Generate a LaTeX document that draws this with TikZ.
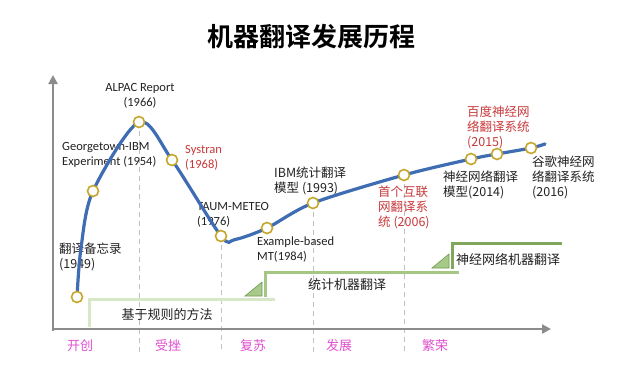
\documentclass[tikz,border=0pt]{standalone}
\usepackage{fontspec}
\setmainfont{Carlito}
\newfontfamily\cjk{Noto Sans CJK SC}[BoldFont={Noto Sans CJK SC Bold}]
\usetikzlibrary{arrows.meta}
\definecolor{curvecol}{HTML}{3F6DB3}
\definecolor{ptcol}{HTML}{C4A62A}
\definecolor{axiscol}{HTML}{8C8C8C}
\definecolor{dashcol}{HTML}{C0C0C0}
\definecolor{txt}{HTML}{222222}
\definecolor{redtxt}{HTML}{C8393B}
\definecolor{phasecol}{HTML}{E050D0}
\definecolor{greenA}{HTML}{D6E8C6}
\definecolor{greenB}{HTML}{A6C686}
\definecolor{greenC}{HTML}{7FA85C}
\definecolor{trifill}{HTML}{A8CA88}
\definecolor{triedge}{HTML}{6F9A50}
\begin{document}
\begin{tikzpicture}[x=1pt,y=-1pt,
  curve/.style={draw=curvecol,line width=3.2pt,line cap=round},
  pt/.style={circle,draw=ptcol,fill=white,line width=1.6pt,minimum size=11pt,inner sep=0pt},
  axis/.style={draw=axiscol,line width=2.4pt,-{Triangle[length=9pt,width=9pt]}},
  guide/.style={draw=dashcol,line width=0.9pt,dash pattern=on 5pt off 4pt},
  lbl/.style={font=\fontsize{12.5}{15}\selectfont,text=txt,align=left,inner sep=0pt,anchor=north west},
  redlbl/.style={lbl,text=redtxt},
  phase/.style={font=\cjk\fontsize{13}{15}\selectfont,text=phasecol,inner sep=0pt},
  era/.style={font=\cjk\fontsize{13}{15}\selectfont,text=txt,inner sep=0pt},
  bracket/.style={line width=3pt},
  tri/.style={fill=trifill,draw=triedge,line width=0.6pt},
]
\useasboundingbox[fill=white] (0,0) rectangle (617,365);

% title
\node[font=\cjk\bfseries\fontsize{26}{30}\selectfont,text=black,inner sep=0pt] (title) at (311,37) {机器翻译发展历程};

% key points
\coordinate (p1) at (77,297);
\coordinate (q1) at (81,248);
\coordinate (p2) at (93,191);
\coordinate (p3) at (139,122);
\coordinate (p4) at (172,160);
\coordinate (p5) at (221,236);
\coordinate (q2) at (235,239.5);
\coordinate (p6) at (267,228);
\coordinate (p7) at (313,203);
\coordinate (p8) at (404,175);
\coordinate (p9) at (471,159);
\coordinate (p10) at (497,154);
\coordinate (p11) at (531,148);
\coordinate (pend) at (545,144);

% dashed guides
\foreach \p in {p3,p5,p7,p8}{
  \draw[guide] (\p) -- (\p |- 0,352);
}

% axes
\coordinate (origin) at (53,329);
\coordinate (ytip) at (53,75);
\coordinate (xtip) at (551,329);
\draw[axis] (53,331) -- (ytip);
\draw[axis] (52,329) -- (xtip);

% phase labels
\node[phase] (ph1) at (80,346) {开创};
\node[phase] (ph2) at (168,346) {受挫};
\node[phase] (ph3) at (253,346) {复苏};
\node[phase] (ph4) at (339,346) {发展};
\node[phase] (ph5) at (435,346) {繁荣};

% brackets
\coordinate (r0) at (89,327); \coordinate (r1) at (89,299); \coordinate (r2) at (275,299);
\coordinate (s0) at (265,297); \coordinate (s1) at (265,272); \coordinate (s2) at (459,272);
\coordinate (n0) at (452,269); \coordinate (n1) at (452,243); \coordinate (n2) at (562,243);
\draw[bracket,draw=greenA] (r0) -- (r1) -- (r2);
\draw[bracket,draw=greenB] (s0) -- (s1) -- (s2);
\draw[bracket,draw=greenC] (n0) -- (n1) -- (n2);
\draw[tri] (245,296) -- (262,296) -- (262,282) -- cycle;
\draw[tri] (432,268) -- (449,268) -- (449,254) -- cycle;
\node[era] (e1) at (167,315) {基于规则的方法};
\node[era] (e2) at (347,285) {统计机器翻译};
\node[era] (e3) at (508,259) {神经网络机器翻译};

% labels
\node[lbl,font=\cjk\fontsize{12.5}{15}\selectfont] (l1) at (59,243) {翻译备忘录\\(1949)};
\node[lbl] (l2) at (62,142) {Georgetown-IBM\\Experiment (1954)};
\node[lbl,anchor=north,align=center] (l3) at (140,83) {ALPAC Report\\(1966)};
\node[redlbl] (l4) at (185,145) {Systran\\(1968)};
\node[lbl] (l5) at (197,202) {TAUM-METEO\\(1976)};
\node[lbl] (l6) at (257,237) {Example-based\\MT(1984)};
\node[lbl,font=\cjk\fontsize{12.5}{15}\selectfont] (l7) at (274,167) {IBM统计翻译\\模型 (1993)};
\node[redlbl,font=\cjk\fontsize{12.5}{15}\selectfont] (l8) at (378,186) {首个互联\\网翻译系\\统 (2006)};
\node[redlbl,font=\cjk\fontsize{12.5}{15}\selectfont] (l9) at (467,106) {百度神经网\\络翻译系统\\(2015)};
\node[lbl,font=\cjk\fontsize{12.5}{15}\selectfont] (l10) at (443,171) {神经网络翻译\\模型(2014)};
\node[lbl,font=\cjk\fontsize{12.5}{15}\selectfont] (l11) at (532,156) {谷歌神经网\\络翻译系统\\(2016)};

% curve
\draw[curve] plot[smooth,tension=0.5] coordinates {(p1) (q1) (p2) (p3) (p4) (p5) (q2) (p6) (p7) (p8) (p9) (p10) (p11) (pend)};

% points
\foreach \p in {p1,p2,p3,p4,p5,p6,p7,p8,p9,p10,p11}{
  \node[pt] (c\p) at (\p) {};
}
\end{tikzpicture}
\end{document}
